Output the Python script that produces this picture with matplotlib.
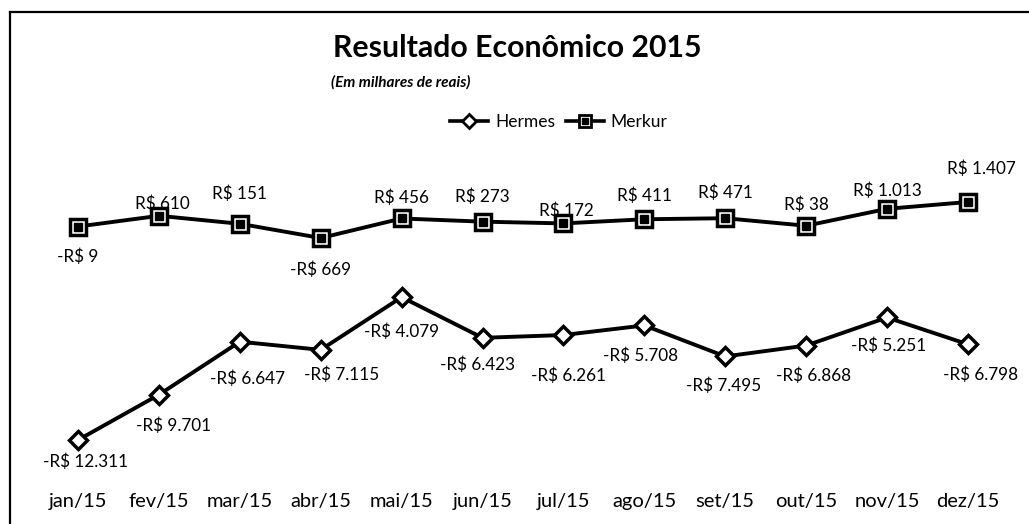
import numpy as np
import matplotlib
matplotlib.use("Agg")
import matplotlib.pyplot as plt
from matplotlib.lines import Line2D

plt.rcParams['font.family'] = ['Lato', 'DejaVu Sans']

months = ["jan/15", "fev/15", "mar/15", "abr/15", "mai/15", "jun/15",
          "jul/15", "ago/15", "set/15", "out/15", "nov/15", "dez/15"]
hermes = [-12311, -9701, -6647, -7115, -4079, -6423,
          -6261, -5708, -7495, -6868, -5251, -6798]
merkur = [-9, 610, 151, -669, 456, 273, 172, 411, 471, 38, 1013, 1407]

# label nudges in pixels (right, down), as placed in the original chart
hermes_nudge = [(8, 22), (15, 31), (8, 37), (21, 25), (0, 35), (-5, 27),
                (5, 41), (-4, 30), (-2, 29), (7, 30), (2, 28), (13, 30)]
merkur_nudge = [(0, 30), (3, -12), (0, -30), (0, 32), (0, -21), (0, -25),
                (3, -13), (0, -24), (0, -25), (0, -21), (0, -18), (13, -33)]


def brl(v):
    s = "{:,}".format(abs(v)).replace(",", ".")
    return ("-R$ " if v < 0 else "R$ ") + s


fig = plt.figure(figsize=(10.29, 5.24), dpi=100)
ax = fig.add_axes([0.0365, 0.1044, 0.9435, 0.596])
x = np.arange(len(months))
px = 72 / fig.dpi

# Hermes: white diamonds
ax.plot(x, hermes, color="black", lw=2.8, marker="D", ms=9,
        mfc="white", mec="black", mew=2.5, zorder=3)
# Merkur: square with white ring and black core
ax.plot(x, merkur, color="black", lw=2.8, marker="s", ms=12,
        mfc="white", mec="black", mew=2.5, zorder=3)
ax.plot(x, merkur, ls="none", marker="s", ms=6, mfc="black",
        mec="black", zorder=4)

for vals, nudges in ((hermes, hermes_nudge), (merkur, merkur_nudge)):
    for i, v in enumerate(vals):
        dx, dy = nudges[i]
        ax.annotate(brl(v), (x[i], v), xytext=(dx * px, -dy * px),
                    textcoords="offset points", ha="center", va="center",
                    fontsize=12.3, zorder=5)

ax.set_xlim(-0.5, len(months) - 0.5)
ax.set_ylim(-14000, 4000)
ax.set_xticks(x)
ax.set_xticklabels(months, fontsize=14.5)
ax.tick_params(axis="x", length=0, pad=17)
ax.set_yticks([])
for sp in ax.spines.values():
    sp.set_visible(False)

fig.text(0.5025, 0.908, "Resultado Econômico 2015", fontsize=21.8,
         fontweight="bold", ha="center", va="center")
fig.text(0.3215, 0.842, "(Em milhares de reais)", fontsize=11,
         fontstyle="italic", fontweight="bold", ha="left", va="center")

handles = [
    Line2D([], [], color="black", lw=2.6, marker="D", ms=7, mfc="white",
           mec="black", mew=2),
    (Line2D([], [], color="black", lw=2.6, marker="s", ms=9, mfc="white",
            mec="black", mew=2),
     Line2D([], [], ls="none", marker="s", ms=4.5, color="black")),
]
fig.legend(handles, ["Hermes", "Merkur"], loc="center",
           bbox_to_anchor=(0.543, 0.767), ncol=2, frameon=False,
           fontsize=12.5, handlelength=2.2, handletextpad=0.4,
           columnspacing=0.6)

# chart frame (left and top edges visible)
fig.add_artist(Line2D([0.0098, 0.0098], [0.0, 0.977], color="black", lw=1.6))
fig.add_artist(Line2D([0.0098, 1.0], [0.977, 0.977], color="black", lw=1.6))

fig.savefig("out.png", dpi=100)
